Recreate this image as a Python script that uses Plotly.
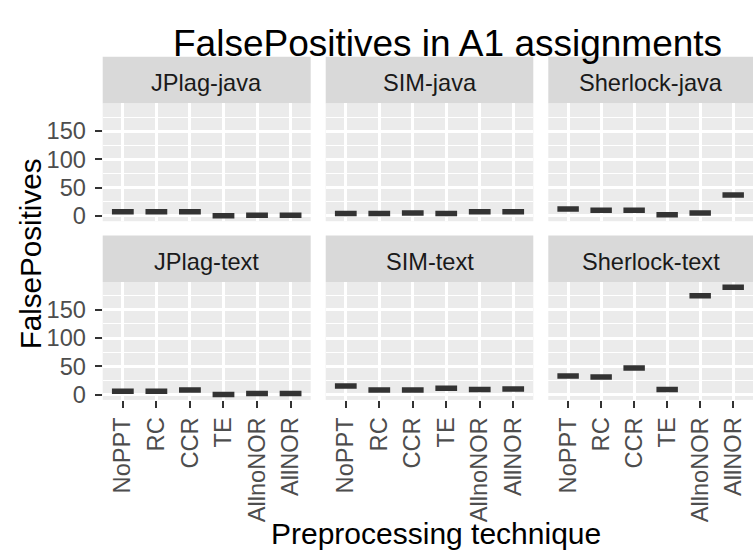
import plotly.graph_objects as go

techniques = ["NoPPT", "RC", "CCR", "TE", "AllnoNOR", "AllNOR"]
panels = ["JPlag-java", "SIM-java", "Sherlock-java", "JPlag-text", "SIM-text", "Sherlock-text"]
jplag_java = [7, 7, 7, 0, 1, 1]
sim_java = [4, 4, 5, 4, 7, 7]
sherlock_java = [12, 10, 10, 2, 5, 37]
jplag_text = [6, 6, 8, 0, 2, 2]
sim_text = [15, 8, 8, 11, 9, 10]
sherlock_text = [33, 31, 47, 9, 175, 190]
values = [jplag_java, sim_java, sherlock_java, jplag_text, sim_text, sherlock_text]
y_ticks = [0, 50, 100, 150]
y_minor = [25, 75, 125, 175]

W, H = 755, 559
FONT = "Liberation Sans, Arial, Helvetica, sans-serif"
col_px = [(102.7, 310.7), (325.7, 533.3), (548.3, 753.0)]
row_px = [(104.7, 224.4), (286.0, 405.7)]
STRIP = 47

fig = go.Figure()
layout = dict(
    width=W, height=H, autosize=False,
    margin=dict(l=0, r=0, t=0, b=0),
    paper_bgcolor="white", plot_bgcolor="#EBEBEB",
    showlegend=False,
    font=dict(family=FONT),
)
shapes = []
annotations = []

for i, (name, vals) in enumerate(zip(panels, values)):
    r, c = divmod(i, 3)
    k = i + 1
    xs = "x" if k == 1 else f"x{k}"
    ys = "y" if k == 1 else f"y{k}"
    fig.add_trace(go.Box(
        x=techniques, y=vals, width=0.65,
        fillcolor="white", line=dict(color="#333333", width=5.5),
        boxpoints=False, whiskerwidth=0, hoverinfo="skip",
        xaxis=xs, yaxis=ys,
    ))
    x0, x1 = col_px[c]
    top, bot = row_px[r]
    xa = dict(
        domain=[x0 / W, x1 / W], anchor=ys,
        type="category", categoryorder="array", categoryarray=techniques,
        range=[-0.6, 5.6],
        showgrid=True, gridcolor="white", gridwidth=2.5,
        zeroline=False, showline=False,
        ticks="outside" if r == 1 else "", ticklen=7, tickwidth=2, tickcolor="#333333",
        showticklabels=(r == 1), tickangle=-90,
        tickfont=dict(size=23.6, color="#4D4D4D", family=FONT),
        fixedrange=True,
    )
    ya = dict(
        domain=[1 - bot / H, 1 - top / H], anchor=xs,
        range=[-9.5, 199.5], tickmode="array", tickvals=y_ticks,
        showgrid=True, gridcolor="white", gridwidth=2.5,
        minor=dict(tickmode="array", tickvals=y_minor, showgrid=True,
                   gridcolor="white", gridwidth=1.2, ticks=""),
        zeroline=False, showline=False,
        ticks="outside" if c == 0 else "", ticklen=7, tickwidth=2, tickcolor="#333333",
        showticklabels=(c == 0), ticklabelstandoff=4,
        tickfont=dict(size=23.6, color="#4D4D4D", family=FONT),
        fixedrange=True,
    )
    layout["xaxis" if k == 1 else f"xaxis{k}"] = xa
    layout["yaxis" if k == 1 else f"yaxis{k}"] = ya
    shapes.append(dict(type="rect", xref="paper", yref="paper",
                       x0=x0 / W, x1=x1 / W, y0=1 - top / H, y1=1 - (top - STRIP) / H,
                       fillcolor="#D9D9D9", line=dict(width=0), layer="below"))
    annotations.append(dict(text=name, xref="paper", yref="paper",
                            x=(x0 + x1) / 2 / W, y=1 - (top - STRIP / 2 + 3.5) / H,
                            xanchor="center", yanchor="middle", showarrow=False,
                            font=dict(size=23.6, color="#1A1A1A", family=FONT)))

annotations.append(dict(text="FalsePositives in A1 assignments", xref="paper", yref="paper",
                        x=447.5 / W, y=1 - 44 / H, xanchor="center", yanchor="middle",
                        showarrow=False, font=dict(size=37, color="black", family=FONT)))
annotations.append(dict(text="Preprocessing technique", xref="paper", yref="paper",
                        x=436 / W, y=1 - 541 / H, xanchor="center", yanchor="middle",
                        showarrow=False, font=dict(size=30, color="black", family=FONT)))
annotations.append(dict(text="FalsePositives", xref="paper", yref="paper",
                        x=30 / W, y=1 - 258 / H, xanchor="center", yanchor="middle", textangle=-90,
                        showarrow=False, font=dict(size=29.6, color="black", family=FONT)))

layout["shapes"] = shapes
layout["annotations"] = annotations
fig.update_layout(**layout)
fig.write_html("out.html", config={"displayModeBar": False},
               post_script="document.body.style.margin='0';document.body.style.overflow='hidden';")
